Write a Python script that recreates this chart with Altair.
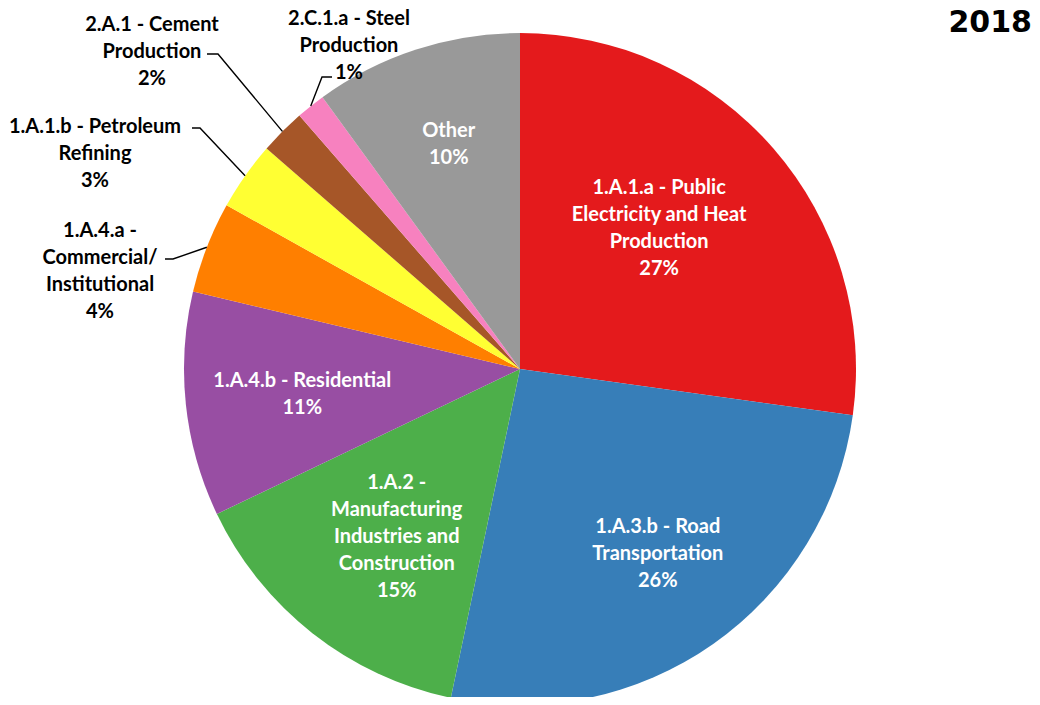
import math
import altair as alt
import pandas as pd

# ---------------- data ----------------
categories = [
    "1.A.1.a - Public Electricity and Heat Production",
    "1.A.3.b - Road Transportation",
    "1.A.2 - Manufacturing Industries and Construction",
    "1.A.4.b - Residential",
    "1.A.4.a - Commercial/Institutional",
    "1.A.1.b - Petroleum Refining",
    "2.A.1 - Cement Production",
    "2.C.1.a - Steel Production",
    "Other",
]
values = [27.2, 26.1, 14.6, 10.8, 4.4, 3.3, 2.2, 1.4, 10.0]
pct_labels = ["27%", "26%", "15%", "11%", "4%", "3%", "2%", "1%", "10%"]
label_lines = [
    ["1.A.1.a - Public", "Electricity and Heat", "Production"],
    ["1.A.3.b - Road", "Transportation"],
    ["1.A.2 -", "Manufacturing", "Industries and", "Construction"],
    ["1.A.4.b - Residential"],
    ["1.A.4.a -", "Commercial/", "Institutional"],
    ["1.A.1.b - Petroleum", "Refining"],
    ["2.A.1 - Cement", "Production"],
    ["2.C.1.a - Steel", "Production"],
    ["Other"],
]
colors = ["#E41A1C", "#377EB8", "#4DAF4A", "#984EA3", "#FF7F00",
          "#FFFF33", "#A65628", "#F781BF", "#999999"]
title_text = "2018"

# ---------------- layout ----------------
W, H = 1024, 689
CX, CY, R = 512, 361, 336
FONT = "Lato"
FS = 20
LH = 27
TEXT_SHIFT = 2
# inside labels: (radial distance of label centre in px, angular nudge in degrees)
inside_layout = {0: (199, -4.6), 1: (229, -1.9), 2: (207, -1.6), 3: (219, 0.0), 8: (237, 0.5)}
# outside labels: text centre, elbow and end of leader (px, relative to pie centre)
outside = {
    4: dict(text=(-420, -100), elbow=(-347, -110), end=(-355, -110)),
    5: dict(text=(-425, -217), elbow=(-320, -241), end=(-328, -241)),
    6: dict(text=(-368, -319), elbow=(-302, -315), end=(-313, -315)),
    7: dict(text=(-171, -325), elbow=(-198, -292), end=(-188, -292)),
}

total = sum(values)
df = pd.DataFrame({"idx": range(len(categories)), "category": categories, "value": values})

# mid angle of each slice (radians, clockwise from 12 o'clock)
mids = []
acc = 0.0
for v in values:
    mids.append((acc + v / 2) / total * 2 * math.pi)
    acc += v

text_rows, lead_rows = [], []
for i, cat in enumerate(categories):
    lines = label_lines[i] + [pct_labels[i]]
    n = len(lines)
    if i in inside_layout:
        rad, nudge = inside_layout[i]
        a = mids[i] + math.radians(nudge)
        tx = CX + rad * math.sin(a)
        ty = CY - rad * math.cos(a)
        col = "white"
    else:
        o = outside[i]
        tx, ty = CX + o["text"][0], CY + o["text"][1]
        col = "black"
        ex = CX + R * math.sin(mids[i])
        ey = CY - R * math.cos(mids[i])
        pts = [(CX + o["end"][0], CY + o["end"][1]),
               (CX + o["elbow"][0], CY + o["elbow"][1]),
               (ex, ey)]
        for k, (px, py) in enumerate(pts):
            lead_rows.append({"category": cat, "k": k, "px": px, "py": py})
    for j, line in enumerate(lines):
        text_rows.append({"category": cat, "line": line, "col": col,
                          "tx": tx, "ty": ty + TEXT_SHIFT + (j - (n - 1) / 2) * LH})

df_text = pd.DataFrame(text_rows)
df_lead = pd.DataFrame(lead_rows)

pie = alt.Chart(df).mark_arc(radius=R).encode(
    theta=alt.Theta("value:Q", stack=True),
    color=alt.Color("category:N", scale=alt.Scale(domain=categories, range=colors), legend=None),
    order=alt.Order("idx:Q"),
    x=alt.value(CX),
    y=alt.value(CY),
)

leaders = alt.Chart(df_lead).mark_line(color="black", strokeWidth=1.4).encode(
    x=alt.X("px:Q", scale=None, axis=None),
    y=alt.Y("py:Q", scale=None, axis=None),
    detail="category:N",
    order="k:Q",
)

labels = alt.Chart(df_text).mark_text(
    font=FONT, fontWeight="bold", fontSize=FS,
    align="center", baseline="middle",
).encode(
    x=alt.X("tx:Q", scale=None, axis=None),
    y=alt.Y("ty:Q", scale=None, axis=None),
    text="line:N",
    color=alt.Color("col:N", scale=None, legend=None),
)

title = alt.Chart(pd.DataFrame({"t": [title_text]})).mark_text(
    font="DejaVu Sans", fontWeight="bold", fontSize=30, color="black",
    align="right", baseline="middle",
).encode(text="t:N", x=alt.value(1024), y=alt.value(15))

chart = alt.layer(pie, leaders, labels, title).properties(
    width=W, height=H, padding=0, autosize=alt.AutoSizeParams(type="none")
).configure_view(stroke=None)

chart.save("out.html", embed_options={"renderer": "svg", "actions": False})
